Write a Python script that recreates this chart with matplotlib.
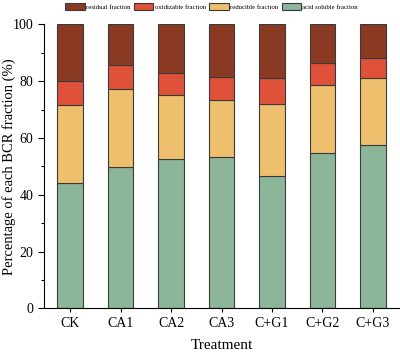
import matplotlib
matplotlib.use("Agg")
import matplotlib.pyplot as plt
import numpy as np
from matplotlib.ticker import MultipleLocator

plt.rcParams['font.family'] = ['Liberation Serif', 'DejaVu Serif']

treatments = ["CK", "CA1", "CA2", "CA3", "C+G1", "C+G2", "C+G3"]
acid_soluble = [44.1, 49.6, 52.7, 53.2, 46.7, 54.6, 57.4]
reducible = [27.6, 27.7, 22.3, 20.0, 25.3, 24.1, 23.7]
oxidizable = [8.2, 8.3, 7.7, 8.3, 9.2, 7.8, 7.0]
residual = [20.1, 14.4, 17.3, 18.5, 18.8, 13.5, 11.9]

colors = {
    "acid soluble fraction": "#8db59a",
    "reducible fraction": "#eec06e",
    "oxidizable fraction": "#e0513a",
    "residual fraction": "#8a3a22",
}

fig = plt.figure(figsize=(4.0, 3.52), dpi=100)
ax = fig.add_axes([0.11, 0.124, 0.8875, 0.807])

x = np.arange(len(treatments))
w = 0.5
ec = "#3a3a3a"
lw = 0.8
b1 = ax.bar(x, acid_soluble, w, color=colors["acid soluble fraction"], edgecolor=ec, linewidth=lw, label="acid soluble fraction")
bot = np.array(acid_soluble)
b2 = ax.bar(x, reducible, w, bottom=bot, color=colors["reducible fraction"], edgecolor=ec, linewidth=lw, label="reducible fraction")
bot = bot + np.array(reducible)
b3 = ax.bar(x, oxidizable, w, bottom=bot, color=colors["oxidizable fraction"], edgecolor=ec, linewidth=lw, label="oxidizable fraction")
bot = bot + np.array(oxidizable)
b4 = ax.bar(x, residual, w, bottom=bot, color=colors["residual fraction"], edgecolor=ec, linewidth=lw, label="residual fraction")

ax.set_xlim(-0.515, 6.515)
ax.set_ylim(0, 100)
ax.set_xticks(x)
ax.set_xticklabels(treatments, fontsize=10)
ax.yaxis.set_major_locator(MultipleLocator(20))
ax.yaxis.set_minor_locator(MultipleLocator(10))
ax.tick_params(axis='y', which='major', labelsize=10, length=4, width=0.8)
ax.tick_params(axis='y', which='minor', length=2, width=0.8)
ax.tick_params(axis='x', length=3, width=0.8)
for s in ["top", "right"]:
    ax.spines[s].set_visible(False)
for s in ["left", "bottom"]:
    ax.spines[s].set_linewidth(0.8)

ax.set_xlabel("Treatment", fontsize=11, labelpad=6)
ax.set_ylabel("Percentage of each BCR fraction (%)", fontsize=10.5)
ax.yaxis.set_label_coords(-0.078, 0.5)

leg = fig.legend(handles=[b4, b3, b2, b1], loc="upper center", bbox_to_anchor=(0.529, 0.998),
                 ncol=4, fontsize=4.9, frameon=False, handlelength=2.85, handleheight=1.2,
                 columnspacing=0.5, handletextpad=0.2, borderpad=0.2, borderaxespad=0.2)

fig.savefig("out.png", dpi=100)
